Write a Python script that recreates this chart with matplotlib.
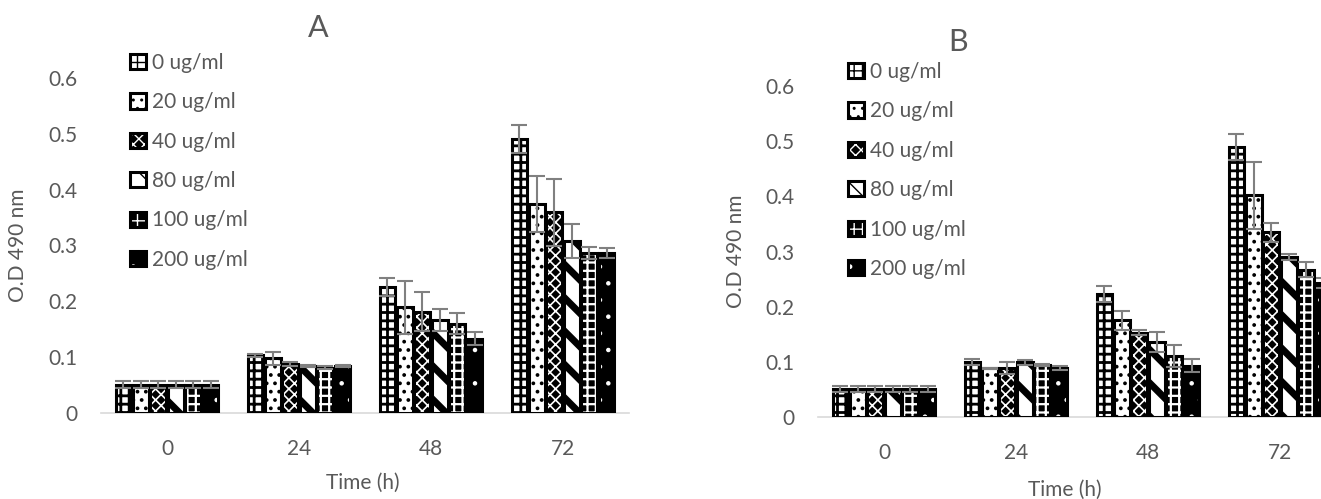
import matplotlib
matplotlib.use("Agg")
import matplotlib.pyplot as plt
import numpy as np
from matplotlib.legend_handler import HandlerTuple

# tiempos de medicion y concentraciones
tiempos = ["0", "24", "48", "72"]
concentraciones = ["0 ug/ml", "20 ug/ml", "40 ug/ml", "80 ug/ml", "100 ug/ml", "200 ug/ml"]

# Panel A: O.D 490 nm por concentracion (filas) y tiempo (columnas)
od_a = [
    [0.051, 0.103, 0.225, 0.490],
    [0.051, 0.098, 0.189, 0.375],
    [0.051, 0.088, 0.181, 0.360],
    [0.051, 0.084, 0.167, 0.308],
    [0.051, 0.081, 0.160, 0.287],
    [0.051, 0.084, 0.133, 0.286],
]
err_a = [
    [0.007, 0.003, 0.016, 0.025],
    [0.007, 0.012, 0.047, 0.050],
    [0.007, 0.003, 0.035, 0.060],
    [0.007, 0.002, 0.020, 0.031],
    [0.007, 0.003, 0.019, 0.011],
    [0.007, 0.002, 0.012, 0.009],
]

# Panel B
od_b = [
    [0.051, 0.100, 0.223, 0.489],
    [0.051, 0.088, 0.175, 0.402],
    [0.051, 0.089, 0.153, 0.335],
    [0.051, 0.099, 0.136, 0.290],
    [0.051, 0.094, 0.111, 0.267],
    [0.051, 0.089, 0.093, 0.243],
]
err_b = [
    [0.006, 0.005, 0.014, 0.024],
    [0.006, 0.001, 0.017, 0.061],
    [0.006, 0.011, 0.004, 0.017],
    [0.006, 0.004, 0.018, 0.006],
    [0.006, 0.002, 0.020, 0.014],
    [0.006, 0.003, 0.012, 0.009],
]

# relleno, color de trama, trama, grosor de trama
estilos = [
    ("white", "black", "++", 2.0),
    ("white", "black", "..", 1.5),
    ("black", "white", "xxx", 1.2),
    ("white", "black", "\\", 5.0),
    ("black", "white", "++", 1.6),
    ("black", "white", ".", 0.8),
]

GRIS = "#595959"
plt.rcParams["font.family"] = ["Lato", "DejaVu Sans"]

W, H = 1321, 499
fig = plt.figure(figsize=(W / 100, H / 100), dpi=100)


def graficar(ax, datos, errores, titulo_xy, titulo, leg_xy):
    x = np.arange(len(tiempos))
    ancho = 0.132
    handles = []
    for i, (vals, errs) in enumerate(zip(datos, errores)):
        cara, trama_col, trama, grosor = estilos[i]
        pos = x + (i - 2.5) * ancho
        with plt.rc_context({"hatch.linewidth": grosor}):
            relleno = ax.bar(pos, vals, ancho * 0.9, color=cara, edgecolor=trama_col,
                             hatch=trama, linewidth=0, zorder=2)
        borde = ax.bar(pos, vals, ancho * 0.9, fill=False, edgecolor="black",
                       linewidth=2.2, zorder=3)
        ax.errorbar(pos, vals, yerr=errs, fmt="none", ecolor="#808080",
                    elinewidth=1.5, capsize=5.5, capthick=1.5, zorder=4)
        handles.append((relleno, borde))

    ax.set_xlim(-0.5, 3.5)
    ax.set_ylim(0, 0.6)
    ax.set_yticks(np.arange(0, 0.61, 0.1))
    ax.set_yticklabels(["0", "0.1", "0.2", "0.3", "0.4", "0.5", "0.6"])
    ax.set_xticks(x)
    ax.set_xticklabels(tiempos)
    ax.tick_params(axis="y", length=0, pad=17, labelsize=15, labelcolor=GRIS)
    ax.tick_params(axis="x", length=0, pad=19, labelsize=15, labelcolor=GRIS)
    for lado in ["top", "right", "left"]:
        ax.spines[lado].set_visible(False)
    ax.spines["bottom"].set_color("#d9d9d9")
    ax.spines["bottom"].set_linewidth(1.2)
    ax.spines["bottom"].set_zorder(1)

    ax.set_ylabel("O.D 490 nm", fontsize=15, color=GRIS)
    ax.set_xlabel("Time (h)", fontsize=15, color=GRIS)
    fig.text(titulo_xy[0] / W, 1 - titulo_xy[1] / H, titulo, fontsize=22,
             color=GRIS, ha="center", va="center")

    ax.legend(handles, concentraciones, handler_map={tuple: HandlerTuple(ndivide=1)},
              loc="upper left", bbox_to_anchor=(leg_xy[0] / W, 1 - leg_xy[1] / H),
              bbox_transform=fig.transFigure, frameon=False, fontsize=15,
              labelcolor=GRIS, handlelength=0.75, handleheight=0.75,
              handletextpad=0.3, labelspacing=0.93, borderpad=0, borderaxespad=0)


axA = fig.add_axes([101 / W, (H - 413) / H, 528 / W, (413 - 78) / H])
graficar(axA, od_a, err_a, (318, 28), "A", (130, 53))
axA.yaxis.set_label_coords(-0.138, 0.5)
axA.xaxis.set_label_coords(0.495, -0.18)

axB = fig.add_axes([818 / W, (H - 417) / H, 528 / W, (417 - 86) / H])
graficar(axB, od_b, err_b, (958, 42), "B", (848, 62))
axB.yaxis.set_label_coords(-0.136, 0.5)
axB.xaxis.set_label_coords(0.468, -0.19)

fig.savefig("out.png", dpi=100)
